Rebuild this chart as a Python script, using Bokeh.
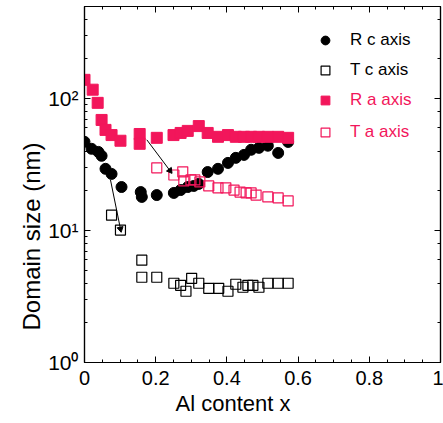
import math
from bokeh.plotting import figure
from bokeh.models import (Range1d, LinearAxis, LogAxis, Legend, LegendItem, Title,
                          CustomJSTickFormatter, SingleIntervalTicker, LogTicker)
from bokeh.embed import file_html
from bokeh.resources import INLINE

PINK = "#F2165B"
FONT = "Liberation Sans"

# R c axis (filled black circles)
rc_x = [0.000, 0.020, 0.039, 0.048, 0.059, 0.076, 0.104, 0.158, 0.161, 0.203, 0.251, 0.270,
        0.290, 0.307, 0.321, 0.346, 0.375, 0.403, 0.425, 0.448, 0.468, 0.490, 0.515, 0.544, 0.572]
rc_y = [47.1, 41.7, 39.5, 36.9, 29.4, 26.9, 21.4, 19.6, 18.0, 18.6, 19.3, 20.3,
        21.4, 21.8, 22.6, 27.8, 29.4, 32.6, 35.6, 37.5, 41.0, 42.4, 44.0, 38.8, 47.0]

# T c axis (open black squares)
tc_x = [0.076, 0.101, 0.161, 0.161, 0.203, 0.251, 0.270, 0.285, 0.301, 0.321, 0.349, 0.377,
        0.403, 0.425, 0.445, 0.459, 0.473, 0.490, 0.515, 0.544, 0.572]
tc_y = [13.1, 10.1, 5.97, 4.43, 4.43, 3.99, 3.85, 3.47, 4.35, 3.99, 3.65, 3.65,
        3.47, 3.92, 3.72, 3.85, 3.85, 3.72, 3.99, 3.99, 3.99]

# R a axis (filled pink squares)
ra_x = [0.000, 0.023, 0.037, 0.048, 0.059, 0.076, 0.101, 0.155, 0.155, 0.203, 0.250, 0.270,
        0.290, 0.321, 0.346, 0.375, 0.403, 0.425, 0.448, 0.468, 0.490, 0.515, 0.544, 0.572]
ra_y = [139, 117, 93, 69, 58, 53, 48, 54, 45.5, 50.5, 53, 55,
        57, 62, 55, 51.4, 53, 51.4, 51.4, 51.4, 51.4, 51.4, 51.4, 50.5]

# T a axis (open pink squares)
ta_x = [0.203, 0.251, 0.276, 0.279, 0.299, 0.310, 0.324, 0.349, 0.375, 0.397, 0.420, 0.437,
        0.454, 0.468, 0.482, 0.515, 0.544, 0.572]
ta_y = [29.9, 26.4, 27.9, 23.8, 24.2, 24.2, 23.4, 21.8, 21.1, 21.1, 20.3, 19.6,
        19.3, 19.3, 18.6, 18.0, 17.7, 16.8]

# arrows (start, end)
arrow_x0 = [0.073, 0.175]
arrow_y0 = [24.2, 48.8]
arrow_x1 = [0.101, 0.240]
arrow_y1 = [10.3, 28.5]

legend_labels = ["R c axis", "T c axis", "R a axis", "T a axis"]
x_title = "Al content x"
y_title = "Domain size (nm)"

p = figure(width=443, height=423, y_axis_type="log",
           x_range=Range1d(0, 1), y_range=Range1d(1, 500),
           output_backend="svg", toolbar_location=None,
           min_border_left=84, min_border_right=3, min_border_top=6, min_border_bottom=61,
           background_fill_color="white", border_fill_color="white")
p.grid.visible = False
p.outline_line_color = "black"
p.outline_line_width = 1.2

r_rc = p.scatter(rc_x, rc_y, marker="circle", size=11, fill_color="black", line_color="black")
r_tc = p.scatter(tc_x, tc_y, marker="square", size=10, fill_color=None, line_color="black", line_width=1.2)
r_ra = p.scatter(ra_x, ra_y, marker="square", size=11, fill_color=PINK, line_color=PINK)
r_ta = p.scatter(ta_x, ta_y, marker="square", size=10, fill_color=None, line_color=PINK, line_width=1.2)

# arrow shafts and heads (head orientation from approximate screen scale of the frame)
p.segment(arrow_x0, arrow_y0, arrow_x1, arrow_y1, line_color="black", line_width=1)
PX_X, PX_DEC = 355.0, 131.5
angles = []
for x0, y0, x1, y1 in zip(arrow_x0, arrow_y0, arrow_x1, arrow_y1):
    dx = (x1 - x0) * PX_X
    dy = (math.log10(y1) - math.log10(y0)) * PX_DEC
    angles.append(math.atan2(dy, dx) - math.pi / 2)
p.scatter(arrow_x1, arrow_y1, marker="triangle", size=6, angle=angles,
          fill_color="black", line_color="black")

xt = SingleIntervalTicker(interval=0.2, num_minor_ticks=4)
xfmt = CustomJSTickFormatter(code="return String(Math.round(tick*10)/10);")
yfmt = CustomJSTickFormatter(code="""
const sup = {'0':'\u2070','1':'\u00b9','2':'\u00b2','3':'\u00b3','-':'\u207b'};
const e = Math.round(Math.log10(tick));
return '10' + String(e).split('').map(c => sup[c]).join('');
""")
blank = CustomJSTickFormatter(code="return '';")

def style(ax):
    ax.axis_line_color = "black"
    ax.axis_line_width = 1.2
    ax.major_tick_in = 6
    ax.major_tick_out = 0
    ax.minor_tick_in = 3
    ax.minor_tick_out = 0
    ax.major_tick_line_color = "black"
    ax.minor_tick_line_color = "black"
    ax.major_label_text_font = FONT
    ax.major_label_text_color = "black"

xa = p.xaxis[0]
xa.ticker = xt
xa.formatter = xfmt
style(xa)
xa.major_label_text_font_size = "20px"
xa.major_label_standoff = 8

ya = p.yaxis[0]
ya.formatter = yfmt
style(ya)
ya.major_label_text_font_size = "21px"
ya.major_label_standoff = 6

top = LinearAxis(ticker=SingleIntervalTicker(interval=0.2, num_minor_ticks=4), formatter=blank)
style(top)
top.major_label_text_font_size = "1px"
top.major_label_standoff = 0
p.add_layout(top, "above")

right = LogAxis(ticker=LogTicker(), formatter=blank)
style(right)
right.major_label_text_font_size = "1px"
right.major_label_standoff = 0
p.add_layout(right, "right")

# axis titles (placed like the original, slightly off-centre)
p.add_layout(Title(text=x_title, align="left", offset=91, standoff=3,
                   text_font=FONT, text_font_size="22px", text_font_style="normal",
                   text_color="black"), "below")
p.add_layout(Title(text=y_title, align="left", offset=32, standoff=2,
                   text_font=FONT, text_font_size="24px", text_font_style="normal",
                   text_color="black"), "left")

def make_legend(items, color, loc, spacing):
    return Legend(items=items, location=loc, orientation="vertical",
                  background_fill_alpha=0, border_line_alpha=0, padding=0, margin=0,
                  spacing=spacing, glyph_height=22, glyph_width=22, label_height=20,
                  label_standoff=14, label_text_font=FONT, label_text_font_size="17px",
                  label_text_color=color)

lg1 = make_legend([LegendItem(label=legend_labels[0], renderers=[r_rc]),
                   LegendItem(label=legend_labels[1], renderers=[r_tc])], "black", (230, 281), 8)
lg2 = make_legend([LegendItem(label=legend_labels[2], renderers=[r_ra]),
                   LegendItem(label=legend_labels[3], renderers=[r_ta])], PINK, (230, 219), 10)
p.add_layout(lg1)
p.add_layout(lg2)

open("out.html", "w").write(file_html(p, INLINE))
